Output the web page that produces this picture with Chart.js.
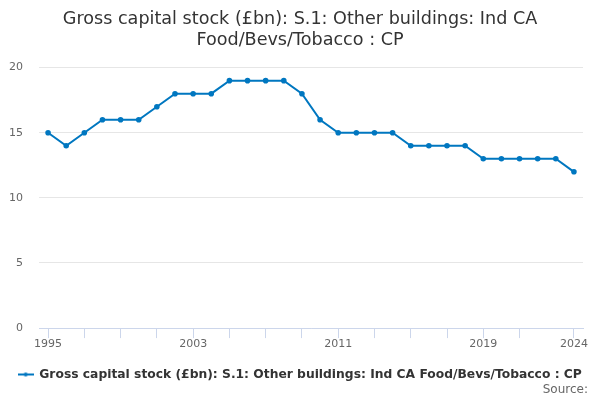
<!DOCTYPE html>
<html>
<head>
<meta charset="utf-8">
<script src="https://cdn.jsdelivr.net/npm/chart.js@4"></script>
<style>
html,body{margin:0;padding:0;background:#fff;}
#wrap{width:600px;height:400px;}
</style>
</head>
<body>
<div id="wrap"><canvas id="c" width="600" height="400"></canvas></div>
<script>
const years = ["1995","1996","1997","1998","1999","2000","2001","2002","2003","2004","2005","2006","2007","2008","2009","2010","2011","2012","2013","2014","2015","2016","2017","2018","2019","2020","2021","2022","2023","2024"];
const values = [15,14,15,16,16,16,17,18,18,18,19,19,19,19,18,16,15,15,15,15,14,14,14,14,13,13,13,13,13,12];
const labelYears = ["1995","2003","2011","2019","2024"];
const tickYears = ["1995","1997","1999","2001","2003","2005","2007","2009","2011","2013","2015","2017","2019","2021","2024"];
const yTicks = [0,5,10,15,20];
const seriesName = "Gross capital stock (£bn): S.1: Other buildings: Ind CA Food/Bevs/Tobacco : CP";
const titleLines = ["Gross capital stock (£bn): S.1: Other buildings: Ind CA", "Food/Bevs/Tobacco : CP"];
const sourceText = "Source:";

const blue = "#0077c0";
const legendIcon = document.createElement('canvas');
legendIcon.width = 16; legendIcon.height = 8;
(function(){
  const g = legendIcon.getContext('2d');
  g.strokeStyle = blue; g.lineWidth = 2;
  g.beginPath(); g.moveTo(0,4); g.lineTo(16,4); g.stroke();
  g.fillStyle = blue; g.beginPath(); g.arc(8,4,2,0,Math.PI*2); g.fill();
})();

const sourcePlugin = {
  id: 'sourceText',
  afterDraw(chart) {
    const ctx = chart.ctx;
    ctx.save();
    ctx.font = "12px 'DejaVu Sans', sans-serif";
    ctx.fillStyle = '#666666';
    ctx.textAlign = 'right';
    ctx.textBaseline = 'middle';
    ctx.fillText(sourceText, 588, 390);
    ctx.restore();
  }
};

Chart.defaults.font.family = "'DejaVu Sans', sans-serif";
new Chart(document.getElementById('c'), {
  type: 'line',
  data: {
    labels: years,
    datasets: [{
      label: seriesName,
      data: values,
      borderColor: blue,
      backgroundColor: blue,
      borderWidth: 2,
      pointRadius: 1.8,
      pointHoverRadius: 3,
      pointStyle: 'circle',
      tension: 0
    }]
  },
  plugins: [sourcePlugin],
  options: {
    responsive: false,
    animation: false,
    layout: { padding: { left: 0, right: 0, top: 0, bottom: 9.4 } },
    plugins: {
      title: {
        display: true,
        text: titleLines,
        color: '#333333',
        font: { size: 17.6, weight: 'normal' },
        lineHeight: 1.21,
        padding: { top: 9, bottom: 16.4 }
      },
      legend: {
        position: 'bottom',
        labels: {
          color: '#333333',
          font: { size: 12.3, weight: 'bold' },
          usePointStyle: true,
          pointStyle: legendIcon,
          pointStyleWidth: 15,
          padding: 19
        }
      },
      tooltip: { enabled: false }
    },
    scales: {
      x: {
        offset: true,
        grid: {
          display: true,
          drawOnChartArea: false,
          drawTicks: true,
          tickLength: 10,
          color: '#ccd6eb',
          offset: false
        },
        border: { display: true, color: '#ccd6eb', width: 1 },
        ticks: {
          autoSkip: false,
          maxRotation: 0,
          color: '#666666',
          font: { size: 11 },
          padding: -1,
          callback: function(v, i) {
            const y = years[i];
            if (labelYears.includes(y)) return y;
            if (tickYears.includes(y)) return '';
            return null;
          }
        }
      },
      y: {
        min: 0,
        max: 20,
        afterBuildTicks: function(axis){ axis.ticks = yTicks.map(v => ({value: v})); },
        afterFit: function(axis){ axis.width = 39; },
        grid: { color: '#e6e6e6', drawTicks: false },
        border: { display: false },
        ticks: { color: '#666666', font: { size: 11 }, padding: 16 }
      },
      yRight: {
        position: 'right',
        display: true,
        afterFit: function(axis){ axis.width = 17; },
        grid: { display: false, drawTicks: false },
        border: { display: false },
        ticks: { display: false }
      }
    }
  }
});
</script>
</body>
</html>
